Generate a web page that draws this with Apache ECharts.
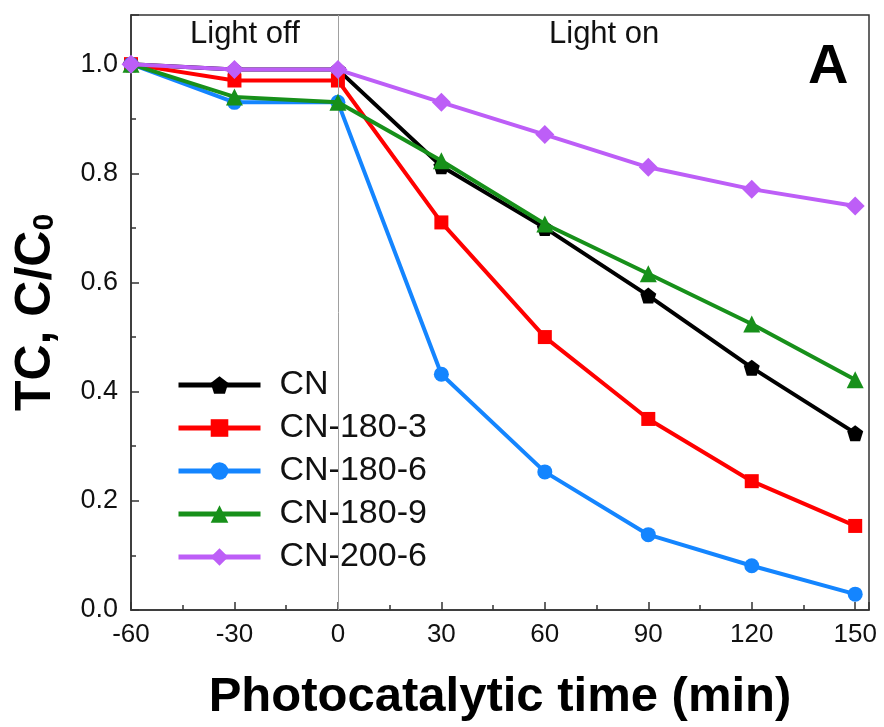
<!DOCTYPE html>
<html>
<head>
<meta charset="utf-8">
<script src="https://cdn.jsdelivr.net/npm/echarts@6/dist/echarts.min.js"></script>
<style>html,body{margin:0;padding:0;background:#fff;}#c{width:884px;height:727px;}</style>
</head>
<body>
<div id="c"></div>
<script>
var times = [-60, -30, 0, 30, 60, 90, 120, 150];
var seriesNames = ['CN', 'CN-180-3', 'CN-180-6', 'CN-180-9', 'CN-200-6'];
var cn      = [1.0, 0.99, 0.99, 0.813, 0.700, 0.576, 0.444, 0.324];
var cn1803  = [1.0, 0.97, 0.97, 0.710, 0.500, 0.350, 0.236, 0.154];
var cn1806  = [1.0, 0.93, 0.93, 0.432, 0.253, 0.138, 0.081, 0.029];
var cn1809  = [1.0, 0.94, 0.93, 0.823, 0.707, 0.616, 0.524, 0.422];
var cn2006  = [1.0, 0.99, 0.99, 0.930, 0.871, 0.811, 0.771, 0.740];
var xTicks = [-60, -30, 0, 30, 60, 90, 120, 150];
var yTicks = [0.0, 0.2, 0.4, 0.6, 0.8, 1.0];

var allValues = [cn, cn1803, cn1806, cn1809, cn2006];
var colors = ['#000000', '#ff0000', '#1485ff', '#17901a', '#bd5ef7'];
var symbols = ['path://M0,-10 L9.51,-3.09 L5.88,8.09 L-5.88,8.09 L-9.51,-3.09 Z', 'rect', 'circle', 'triangle', 'diamond'];
var symSizes = [16, 14, 15, 17, 19];

function pairs(v){ return times.map(function(t,i){ return [t, v[i]]; }); }

var series = seriesNames.map(function(n, k){
  return {
    name: n, type: 'line', data: pairs(allValues[k]),
    symbol: symbols[k], symbolSize: symSizes[k], showAllSymbol: true,
    z: 3 + k,
    lineStyle: {color: colors[k], width: 4},
    itemStyle: {color: colors[k]}
  };
});
series.push({
  type: 'line', data: [], z: 1,
  markLine: {silent: true, symbol: 'none', label: {show: false},
    lineStyle: {color: '#a0a0a0', width: 1, type: 'solid'},
    data: [{xAxis: 0}]}
});

var chart = echarts.init(document.getElementById('c'));
chart.setOption({
  backgroundColor: '#fff',
  animation: false,
  grid: {left: 131, right: 15, top: 15, bottom: 117, show: true, borderColor: '#333', borderWidth: 1.5, backgroundColor: 'transparent'},
  legend: {
    data: seriesNames, orient: 'vertical', left: 171, top: 363,
    itemWidth: 82, itemHeight: 22, itemGap: 9,
    lineStyle: {width: 5},
    textStyle: {fontSize: 34, lineHeight: 34, color: '#111', fontFamily: 'Liberation Sans, Arial, sans-serif', padding: [0, 0, 0, 14]}
  },
  xAxis: {
    type: 'value', min: -60, max: 154, interval: 30,
    axisLine: {onZero: false, lineStyle: {color: '#333', width: 1.5}},
    axisTick: {inside: true, length: 8, lineStyle: {color: '#333', width: 1.5}},
    minorTick: {show: true, splitNumber: 2, length: 5, lineStyle: {color: '#333', width: 1.5}},
    splitLine: {show: false},
    axisLabel: {fontSize: 26, color: '#111', margin: 12, fontFamily: 'Liberation Sans Narrow, Liberation Sans, Arial, sans-serif',
      formatter: function(v){ return xTicks.indexOf(v) >= 0 ? String(v) : ''; }},
    name: 'Photocatalytic time (min)', nameLocation: 'middle', nameGap: 63,
    nameTextStyle: {fontSize: 49, fontWeight: 'bold', color: '#000', fontFamily: 'Liberation Sans, Arial, sans-serif'}
  },
  yAxis: {
    type: 'value', min: 0, max: 1.09, interval: 0.2,
    axisLine: {show: true, onZero: false, lineStyle: {color: '#333', width: 1.5}},
    axisTick: {show: true, inside: true, length: 8, lineStyle: {color: '#333', width: 1.5}},
    minorTick: {show: true, splitNumber: 2, length: 5, lineStyle: {color: '#333', width: 1.5}},
    splitLine: {show: false},
    axisLabel: {fontSize: 27, color: '#111', margin: 13, fontFamily: 'Liberation Sans, Arial, sans-serif',
      formatter: function(v){
        for (var i = 0; i < yTicks.length; i++) { if (Math.abs(yTicks[i] - v) < 1e-6) return yTicks[i].toFixed(1); }
        return '';
      }},
    name: '{m|TC, C/C}{s|0}', nameLocation: 'middle', nameGap: 70, nameRotate: 90,
    nameTextStyle: {
      rich: {
        m: {fontSize: 50, fontWeight: 'bold', color: '#000', fontFamily: 'Liberation Sans, Arial, sans-serif'},
        s: {fontSize: 30, fontWeight: 'bold', color: '#000', fontFamily: 'Liberation Sans, Arial, sans-serif', padding: [18, 0, 0, 0]}
      }
    }
  },
  graphic: [
    {type: 'text', left: 190, top: 19, style: {text: 'Light off', fontSize: 31, fill: '#111', fontFamily: 'Liberation Sans Narrow, Liberation Sans, Arial, sans-serif'}},
    {type: 'text', left: 549, top: 19, style: {text: 'Light on', fontSize: 31, fill: '#111', fontFamily: 'Liberation Sans Narrow, Liberation Sans, Arial, sans-serif'}},
    {type: 'text', left: 808, top: 40, style: {text: 'A', fontSize: 56, fontWeight: 'bold', fill: '#000', fontFamily: 'Liberation Sans, Arial, sans-serif'}}
  ],
  series: series
});
</script>
</body>
</html>
